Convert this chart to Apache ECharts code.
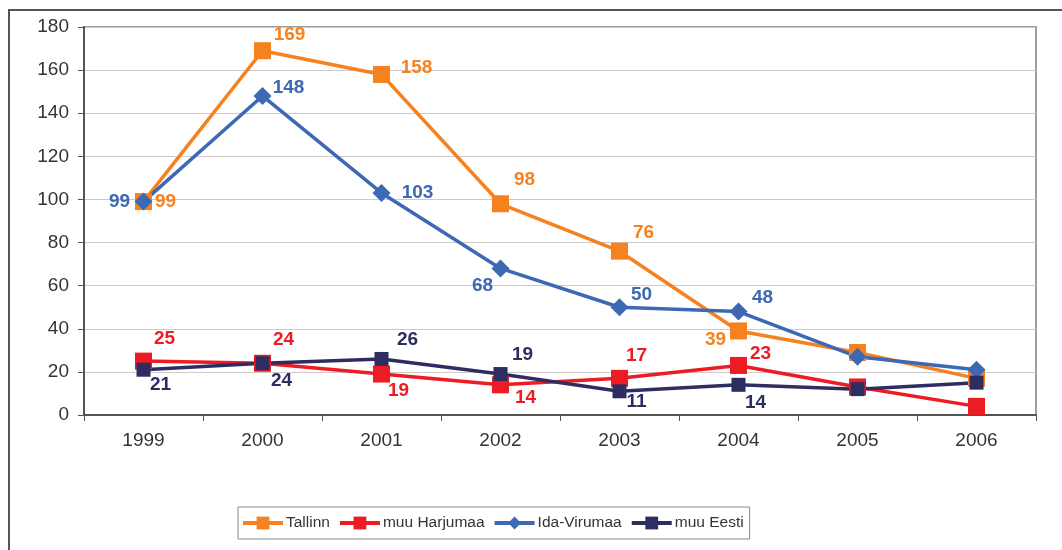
<!DOCTYPE html>
<html>
<head>
<meta charset="utf-8">
<script src="https://cdn.jsdelivr.net/npm/echarts@6/dist/echarts.min.js"></script>
<style>
  html, body { margin: 0; padding: 0; background: #fff; }
  #frame { position: absolute; left: 8px; top: 9px; width: 1100px; height: 600px;
           border-left: 2px solid #555; border-top: 2px solid #555; }
  #chart { position: absolute; left: 0; top: 0; width: 1062px; height: 550px; }
</style>
</head>
<body>
<div id="frame"></div>
<div id="chart"></div>
<script>
let years = ['1999', '2000', '2001', '2002', '2003', '2004', '2005', '2006'];

let tallinn   = [99, 169, 158, 98, 76, 39, 29, 17];
let harjumaa  = [25, 24, 19, 14, 17, 23, 13, 4];
let idaViru   = [99, 148, 103, 68, 50, 48, 27, 21];
let muuEesti  = [21, 24, 26, 19, 11, 14, 12, 15];

// label offsets per point (null = no label)
let offTallinn  = [[22, 0], [27, -16], [35, -7], [24, -24], [24, -18], [-23, 9], null, null];
let offHarju    = [[21, -22], [21, -24], [17, 17], [25, 13], [17, -23], [22, -12], null, null];
let offIda      = [[-24, 0], [26, -8], [36, 0], [-18, 17], [22, -12], [24, -14], null, null];
let offEesti    = [[17, 15], [19, 17], [26, -19], [22, -19], [17, 10], [17, 18], null, null];

let myChart = echarts.init(document.getElementById('chart'));

function makeData(vals, offs, color) {
    return vals.map(function (v, i) {
        let o = offs[i];
        if (!o) return { value: v, label: { show: false } };
        return {
            value: v,
            label: {
                show: true,
                position: 'inside',
                offset: o,
                color: color,
                fontWeight: 'bold',
                fontSize: 19,
                fontFamily: 'Liberation Sans, Arial, sans-serif'
            }
        };
    });
}

function makeSeries(name, vals, offs, color, symbol, size) {
    return {
        name: name,
        type: 'line',
        data: makeData(vals, offs, color),
        symbol: symbol,
        symbolSize: size,
        showAllSymbol: true,
        lineStyle: { color: color, width: 3.5 },
        itemStyle: { color: color, borderWidth: 0 },
        emphasis: { disabled: true },
        animation: false
    };
}

let option = {
    animation: false,
    textStyle: { fontFamily: 'Liberation Sans, Arial, sans-serif' },
    grid: {
        left: 84, right: 26, top: 27, bottom: 135,
        show: true, borderColor: '#a49c9a', borderWidth: 2,
        backgroundColor: 'transparent'
    },
    legend: {
        top: 507,
        left: 238,
        itemWidth: 40,
        itemHeight: 16,
        itemGap: 8,
        padding: [8, 6, 8, 3],
        borderColor: '#888',
        borderWidth: 1,
        lineStyle: { width: 4 },
        textStyle: { fontSize: 15.5, color: '#333', padding: [0, 0, 0, -2] },
        data: ['Tallinn', 'muu Harjumaa', 'Ida-Virumaa', 'muu Eesti']
    },
    xAxis: {
        type: 'category',
        data: years,
        boundaryGap: true,
        axisLine: { lineStyle: { color: '#5a5250', width: 2 } },
        axisTick: { show: true, length: 6, lineStyle: { color: '#5a5250' } },
        axisLabel: { fontSize: 19, color: '#333', margin: 16 },
        splitLine: { show: false }
    },
    yAxis: {
        type: 'value',
        min: 0,
        max: 180,
        interval: 20,
        axisLine: { show: true, lineStyle: { color: '#5a5250', width: 2 } },
        axisTick: { show: true, length: 6, lineStyle: { color: '#5a5250' } },
        axisLabel: { fontSize: 19, color: '#333', margin: 15 },
        splitLine: { lineStyle: { color: '#cfc9c8', width: 1 } }
    },
    series: [
        makeSeries('Tallinn', tallinn, offTallinn, '#f5821f', 'rect', 17),
        makeSeries('muu Harjumaa', harjumaa, offHarju, '#ed1c24', 'rect', 17),
        makeSeries('Ida-Virumaa', idaViru, offIda, '#3d68b4', 'diamond', 18),
        makeSeries('muu Eesti', muuEesti, offEesti, '#2e2d62', 'rect', 14)
    ]
};

myChart.setOption(option, true);
</script>
</body>
</html>
